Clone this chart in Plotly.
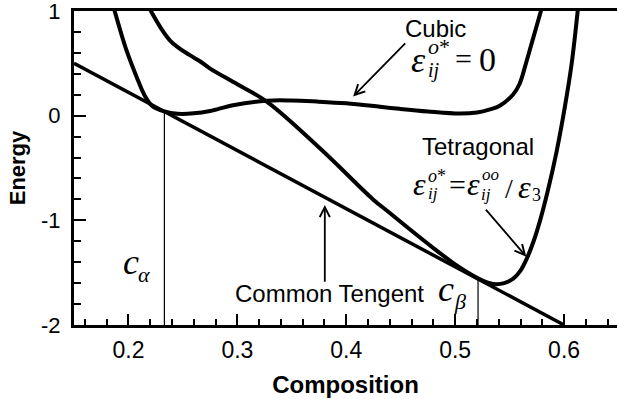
import plotly.graph_objects as go

# ---------------- data ----------------
cubic_x = [0.186, 0.198, 0.2075, 0.215, 0.222, 0.233, 0.245, 0.26, 0.275, 0.296,
           0.327, 0.35, 0.373, 0.40, 0.431, 0.449, 0.475, 0.504, 0.52, 0.532,
           0.541, 0.553, 0.559, 0.565, 0.5705, 0.579, 0.582]
cubic_y = [1.05, 0.63, 0.37, 0.19, 0.09, 0.04, 0.018, 0.022, 0.045, 0.10,
           0.143, 0.145, 0.135, 0.118, 0.085, 0.065, 0.040, 0.020, 0.030, 0.060,
           0.095, 0.20, 0.30, 0.50, 0.70, 1.01, 1.12]

tetra_x = [0.218, 0.238, 0.256, 0.2656, 0.275, 0.30, 0.327, 0.3787, 0.4246, 0.44,
           0.46, 0.48, 0.50, 0.52, 0.53, 0.537, 0.545, 0.553, 0.56, 0.566,
           0.572, 0.578, 0.585, 0.593, 0.601, 0.607, 0.613]
tetra_y = [1.05, 0.72, 0.58, 0.52, 0.45, 0.30, 0.134, -0.34, -0.80, -0.93,
           -1.10, -1.265, -1.42, -1.548, -1.595, -1.61, -1.60, -1.56, -1.48, -1.36,
           -1.20, -1.00, -0.72, -0.35, 0.10, 0.50, 1.05]

tangent_x = [0.15, 0.60]
tangent_y = [0.50, -2.0]

c_alpha = 0.233
c_alpha_top = 0.04
c_beta = 0.521
c_beta_top = -1.56

x_ticks = [0.2, 0.3, 0.4, 0.5, 0.6]
x_ticktext = ["0.2", "0.3", "0.4", "0.5", "0.6"]
y_ticks = [-2, -1, 0, 1]
y_ticktext = ["-2", "-1", "0", "1"]

# ---------------- figure ----------------
fig = go.Figure()

fig.add_trace(go.Scatter(x=tangent_x, y=tangent_y, mode="lines",
                         line=dict(color="black", width=3.5), hoverinfo="skip"))
fig.add_trace(go.Scatter(x=cubic_x, y=cubic_y, mode="lines",
                         line=dict(color="black", width=4, shape="spline", smoothing=1),
                         hoverinfo="skip"))
fig.add_trace(go.Scatter(x=tetra_x, y=tetra_y, mode="lines",
                         line=dict(color="black", width=4, shape="spline", smoothing=1),
                         hoverinfo="skip"))
fig.add_trace(go.Scatter(x=[c_alpha, c_alpha], y=[c_alpha_top, -2], mode="lines",
                         line=dict(color="black", width=1.2), hoverinfo="skip"))
fig.add_trace(go.Scatter(x=[c_beta, c_beta], y=[c_beta_top, -2], mode="lines",
                         line=dict(color="black", width=1.2), hoverinfo="skip"))

SANS = "Liberation Sans, Arial, sans-serif"
SERIF = "Liberation Serif, Times New Roman, serif"

annotations = []

def txt(x, y, text, size, family=SANS, xanchor="center", yanchor="middle"):
    annotations.append(dict(x=x, y=y, xref="x", yref="y", text=text, showarrow=False,
                            font=dict(family=family, size=size, color="black"),
                            xanchor=xanchor, yanchor=yanchor, borderpad=0))

def arrow(x, y, ax, ay):
    annotations.append(dict(x=x, y=y, ax=ax, ay=ay, xref="x", yref="y",
                            axref="x", ayref="y", text="", showarrow=True,
                            arrowhead=5, arrowsize=1.1, arrowwidth=1.8,
                            arrowcolor="black"))

# Cubic label
txt(0.4815, 0.83, "Cubic", 24)
txt(0.4745, 0.53, "<i>ε</i>", 36, SERIF, xanchor="right")
txt(0.4745, 0.66, "<i>o</i>*", 22, SERIF, xanchor="left")
txt(0.4740, 0.43, "<i>ij</i>", 20, SERIF, xanchor="left")
txt(0.5076, 0.545, "=", 30, SERIF)
txt(0.5297, 0.54, "0", 34, SERIF)
arrow(0.4063, 0.183, 0.4555, 0.704)

# Tetragonal label
txt(0.521, -0.29, "Tetragonal", 24)
txt(0.4745, -0.655, "<i>ε</i>", 32, SERIF, xanchor="right")
txt(0.4745, -0.575, "<i>o</i>*", 18, SERIF, xanchor="left")
txt(0.4740, -0.745, "<i>ij</i>", 17, SERIF, xanchor="left")
txt(0.5019, -0.655, "=", 30, SERIF)
txt(0.5237, -0.655, "<i>ε</i>", 32, SERIF, xanchor="right")
txt(0.5237, -0.565, "<i>oo</i>", 17, SERIF, xanchor="left")
txt(0.5232, -0.75, "<i>ij</i>", 17, SERIF, xanchor="left")
txt(0.549, -0.70, "/", 28, SERIF)
txt(0.5706, -0.68, "<i>ε</i>", 32, SERIF, xanchor="right")
txt(0.5700, -0.755, "3", 18, SERIF, xanchor="left")
arrow(0.5653, -1.347, 0.527, -0.884)

# Common tangent
txt(0.3842, -1.70, "Common Tengent", 24)
arrow(0.3803, -0.853, 0.3803, -1.60)

# c_alpha, c_beta
txt(0.2109, -1.40, "<i>c</i>", 36, SERIF, xanchor="right")
txt(0.2082, -1.515, "<i>α</i>", 22, SERIF, xanchor="left")
txt(0.4997, -1.66, "<i>c</i>", 36, SERIF, xanchor="right")
txt(0.4982, -1.78, "<i>β</i>", 22, SERIF, xanchor="left")

fig.update_layout(
    width=617, height=399,
    margin=dict(l=74, r=0, t=11, b=74),
    paper_bgcolor="white", plot_bgcolor="white",
    showlegend=False,
    hovermode=False,
    annotations=annotations,
    font=dict(family=SANS, color="black"),
)

fig.update_xaxes(
    range=[0.15, 0.6486], tickvals=x_ticks, ticktext=x_ticktext,
    ticks="inside", ticklen=11, tickwidth=2, tickcolor="black",
    showline=True, linewidth=3, linecolor="black", mirror=True,
    showgrid=False, zeroline=False,
    tickfont=dict(family=SANS, size=23, color="black"),
    ticklabelstandoff=2, ticklabeloverflow="allow",
    minor=dict(dtick=0.02, tick0=0, ticks="inside", ticklen=6, tickwidth=1.5,
               tickcolor="black", showgrid=False),
    title=dict(text="<b>Composition</b>", font=dict(family=SANS, size=24, color="black"),
               standoff=15),
)
fig.update_yaxes(
    range=[-2, 1], tickvals=y_ticks, ticktext=y_ticktext,
    ticks="inside", ticklen=12, tickwidth=2, tickcolor="black",
    showline=True, linewidth=3, linecolor="black", mirror=False,
    showgrid=False, zeroline=False,
    tickfont=dict(family=SANS, size=22, color="black"),
    ticklabelstandoff=6, ticklabeloverflow="allow",
    minor=dict(dtick=0.2, tick0=0, ticks="inside", ticklen=7, tickwidth=1.5,
               tickcolor="black", showgrid=False),
    title=dict(text="<b>Energy</b>", font=dict(family=SANS, size=22, color="black"),
               standoff=10),
)

fig.write_html("out.html", config=dict(displayModeBar=False))
